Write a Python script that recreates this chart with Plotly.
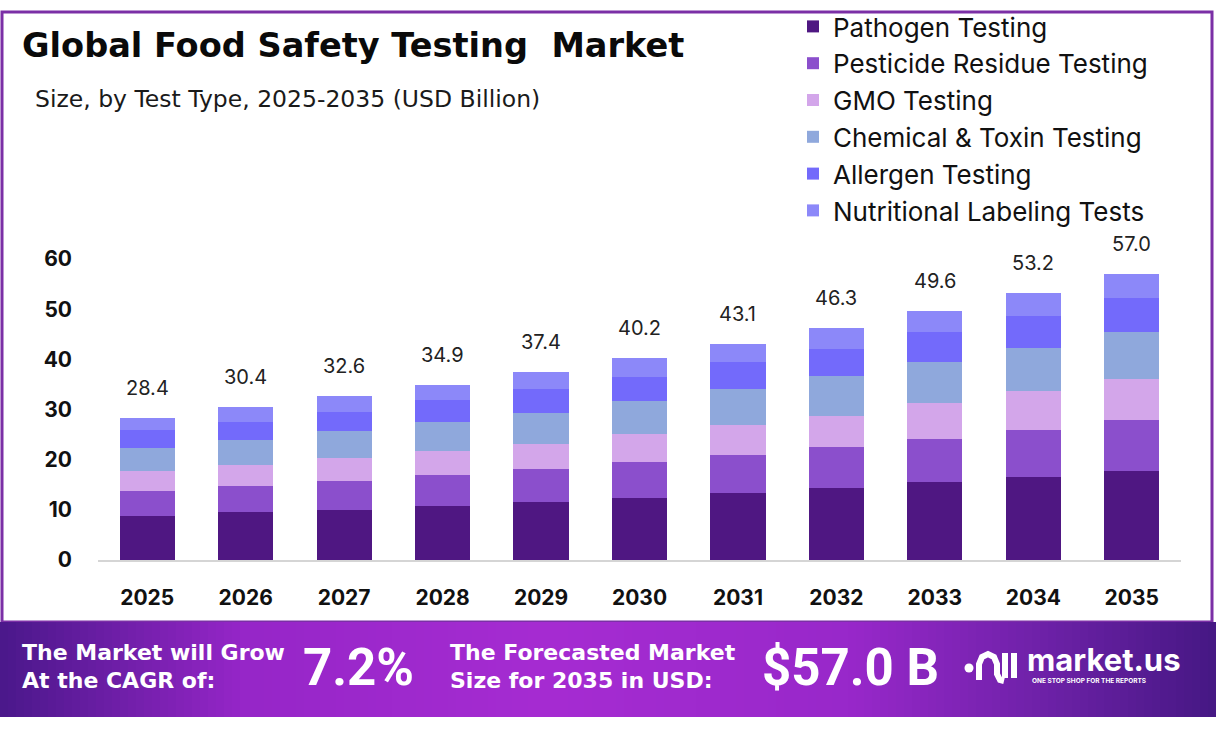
import plotly.graph_objects as go

years = ["2025", "2026", "2027", "2028", "2029", "2030", "2031", "2032", "2033", "2034", "2035"]
pathogen = [8.7, 9.5, 10.0, 10.8, 11.6, 12.3, 13.3, 14.3, 15.5, 16.5, 17.7]
pesticide = [5.1, 5.3, 5.8, 6.2, 6.5, 7.2, 7.6, 8.2, 8.7, 9.5, 10.3]
gmo = [4.0, 4.2, 4.6, 4.8, 5.1, 5.6, 6.0, 6.3, 7.0, 7.6, 8.0]
chemical = [4.6, 5.0, 5.4, 5.8, 6.2, 6.6, 7.2, 7.8, 8.2, 8.6, 9.5]
allergen = [3.5, 3.6, 3.8, 4.2, 4.7, 4.7, 5.3, 5.4, 6.0, 6.4, 6.7]
nutritional = [2.5, 2.8, 3.0, 3.1, 3.3, 3.8, 3.7, 4.3, 4.2, 4.6, 4.8]

series_names = ["Pathogen Testing", "Pesticide Residue Testing", "GMO Testing",
                "Chemical & Toxin Testing", "Allergen Testing", "Nutritional Labeling Tests"]
series_values = [pathogen, pesticide, gmo, chemical, allergen, nutritional]
series_colors = ["#4f1782", "#8b4fcc", "#d3a6ea", "#8fa8dc", "#736afb", "#8c88f9"]

cagr_text = "7.2%"
forecast_text = "$57.0 B"

W, H = 1216, 730
L, R, T, B = 98, 1181, 259, 560


def px(x, y):
    return (x - L) / (R - L), (B - y) / (B - T)


fig = go.Figure()
for name, vals, col in zip(series_names, series_values, series_colors):
    fig.add_trace(go.Bar(x=years, y=vals, name=name, marker=dict(color=col, line=dict(width=0)),
                         width=0.56, hoverinfo="skip"))

totals = [round(sum(v), 1) for v in zip(*series_values)]
annotations = []
for i, tot in enumerate(totals):
    annotations.append(dict(x=(i + 0.5) / len(years), y=tot, xref="paper", yref="y", text=f"{tot:.1f}",
                            showarrow=False, xanchor="center", yanchor="bottom", yshift=16,
                            font=dict(family="Inter", size=20, color="#222222")))

shapes = []
# outer frame
x0, y0 = px(2, 12)
x1, y1 = px(1212, 622)
shapes.append(dict(type="rect", xref="paper", yref="paper", x0=x0, y0=y0, x1=x1, y1=y1,
                   line=dict(color="#7b2fa6", width=3), fillcolor="rgba(0,0,0,0)", layer="below"))

# banner gradient
stops = [(0.0, (74, 24, 138)), (0.2, (150, 38, 200)), (0.45, (166, 44, 210)),
         (0.7, (152, 40, 202)), (0.85, (112, 34, 170)), (1.0, (70, 24, 132))]


def grad(t):
    for (a, ca), (b, cb) in zip(stops[:-1], stops[1:]):
        if a <= t <= b:
            f = (t - a) / (b - a)
            return tuple(int(ca[i] + (cb[i] - ca[i]) * f) for i in range(3))
    return stops[-1][1]


n = 152
for i in range(n):
    xa = i * W / n
    xb = (i + 1) * W / n + 0.8
    c = grad((i + 0.5) / n)
    ax0, ay0 = px(xa, 622)
    ax1, ay1 = px(xb, 717)
    shapes.append(dict(type="rect", xref="paper", yref="paper", x0=ax0, y0=ay1, x1=ax1, y1=ay0,
                       line=dict(width=0), fillcolor=f"rgb{c}", layer="below"))

# logo icon
cx, cy = px(969, 668)
r = 4.5 / (R - L)
ry = 4.5 / (B - T)
shapes.append(dict(type="circle", xref="paper", yref="paper", x0=cx - r, x1=cx + r, y0=cy - ry, y1=cy + ry,
                   fillcolor="white", line=dict(width=0)))


def path_px(pts):
    s = ""
    for k, (a, b) in enumerate(pts):
        xa, ya = px(a, b)
        s += ("M" if k == 0 else "L") + f"{xa},{ya} "
    return s


shapes.append(dict(type="path", xref="paper", yref="paper",
                   path=path_px([(979, 680), (979, 664), (982, 657), (988, 654), (994, 657), (997, 664), (997, 674), (1000, 680), (1004, 681)]),
                   line=dict(color="white", width=6)))
for xx in (1005, 1014):
    shapes.append(dict(type="path", xref="paper", yref="paper",
                       path=path_px([(xx, 653), (xx, 678)]), line=dict(color="white", width=6)))


def ann(xp, yp, text, size, color="#111111", family="Inter", weight="normal", xanchor="left", yanchor="middle"):
    ax, ay = px(xp, yp)
    annotations.append(dict(x=ax, y=ay, xref="paper", yref="paper", text=text, showarrow=False,
                            xanchor=xanchor, yanchor=yanchor,
                            font=dict(family=family, size=size, color=color, weight=weight)))


ann(20, 46, "Global Food Safety Testing  Market", 33.6, "#0a0a0a", family="DejaVu Sans", weight="bold")
ann(33, 99, "Size, by Test Type, 2025-2035 (USD Billion)", 23.5, "#1a1a1a", family="DejaVu Sans")

ann(20, 652, "The Market will Grow", 22, "white", family="DejaVu Sans", weight="bold")
ann(20, 680, "At the CAGR of:", 22, "white", family="DejaVu Sans", weight="bold")
ann(301, 667, cagr_text, 51, "white", family="Roboto", weight="bold")
ann(448, 652, "The Forecasted Market", 22, "white", family="DejaVu Sans", weight="bold")
ann(448, 680, "Size for 2035 in USD:", 22, "white", family="DejaVu Sans", weight="bold")
ann(760, 667, forecast_text, 51, "white", family="Roboto", weight="bold")
ann(1025, 659, "market.us", 31, "white", family="Inter", weight="bold")
ann(1030, 681, "ONE STOP SHOP FOR THE REPORTS", 6.5, "white", family="Inter", weight="bold")

lx, ly = px(793, 3)
fig.update_layout(
    width=W, height=H,
    margin=dict(l=L, r=W - R, t=T, b=H - B, pad=0, autoexpand=False),
    paper_bgcolor="white", plot_bgcolor="white",
    barmode="stack", bargap=0.44,
    showlegend=True,
    legend=dict(x=lx, y=ly, xanchor="left", yanchor="top", traceorder="normal",
                font=dict(family="Inter", size=26, color="#111111"),
                bgcolor="rgba(0,0,0,0)", itemclick=False, itemdoubleclick=False),
    xaxis=dict(type="category", showgrid=False, showline=True, linecolor="#d5d5d5", linewidth=2,
               ticks="", ticklabelstandoff=18, range=[-0.5, 10.5],
               tickfont=dict(family="Inter", size=21, color="#111111", weight="bold")),
    yaxis=dict(range=[0, 60], tickvals=[0, 10, 20, 30, 40, 50, 60], showgrid=False, zeroline=False,
               showline=False, ticks="", ticklabelstandoff=25,
               tickfont=dict(family="Inter", size=21, color="#111111", weight="bold")),
    annotations=annotations,
    shapes=shapes,
)

fig.write_html("out.html")
